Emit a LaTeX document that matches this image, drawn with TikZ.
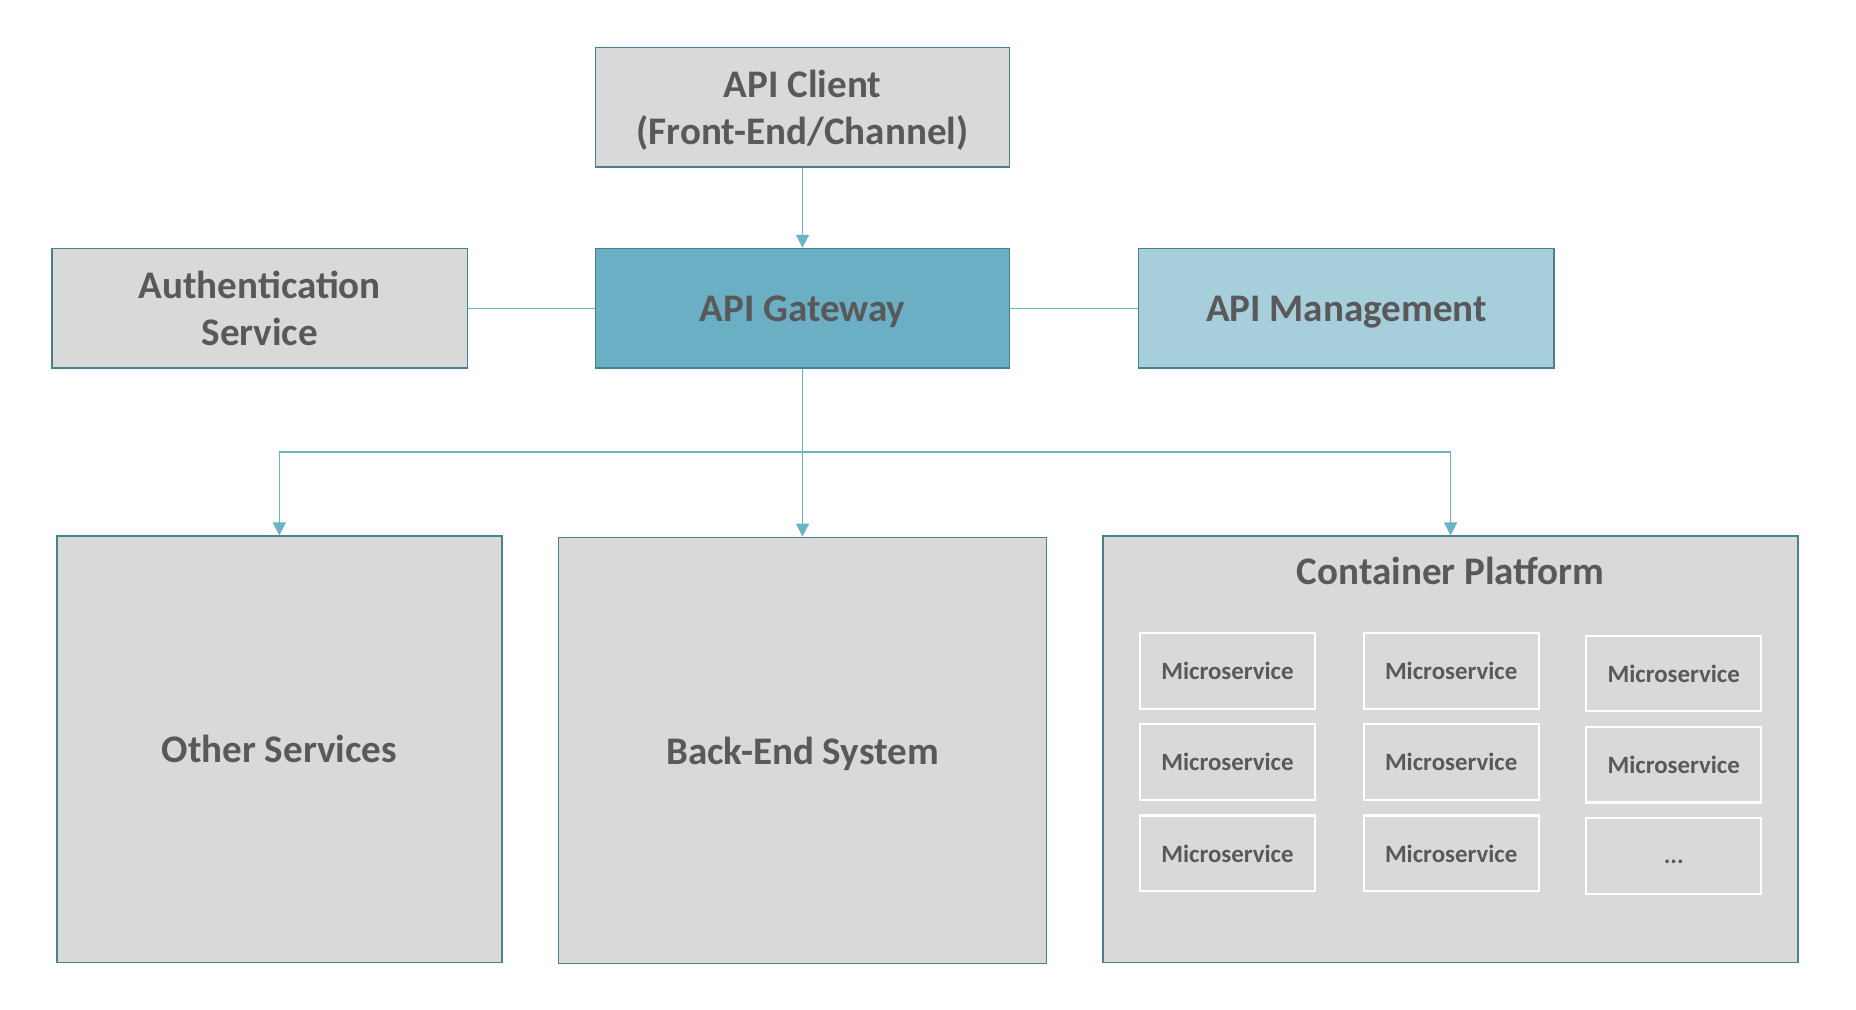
\documentclass[tikz,border=0pt]{standalone}
\usepackage{fontspec}
\setmainfont{Carlito}
\usetikzlibrary{arrows.meta}
\definecolor{boxgray}{HTML}{D9D9D9}
\definecolor{boxborder}{HTML}{4A7F8C}
\definecolor{gwfill}{HTML}{6AAFC3}
\definecolor{mgmtfill}{HTML}{A6CFDB}
\definecolor{linecol}{HTML}{6AB4C8}
\definecolor{txt}{HTML}{595959}
\begin{document}
\begin{tikzpicture}[x=1pt,y=1pt,
  bigbox/.style={draw=boxborder, line width=1.3pt, fill=boxgray, inner sep=0pt,
    text=txt, font=\fontsize{33}{40}\selectfont\bfseries, align=center, text depth=0pt},
  msbox/.style={draw=white, line width=1.8pt, fill=boxgray, inner sep=0pt,
    minimum width=148pt, minimum height=64pt, text=txt,
    font=\fontsize{21}{25}\selectfont\bfseries},
  conn/.style={draw=linecol, line width=1.2pt},
  arr/.style={conn, -{Triangle[width=11pt,length=11pt]}}]
\useasboundingbox (0,0) rectangle (1568,-853);
\fill[white] (0,0) rectangle (1568,-853);

\node[bigbox, minimum width=350pt, minimum height=101pt] (client) at (678,-90.5) {API Client\\(Front-End/Channel)};
\node[bigbox, minimum width=351pt, minimum height=101pt] (auth) at (219.5,-260.5) {Authentication\\Service};
\node[bigbox, fill=gwfill, minimum width=350pt, minimum height=101pt] (gw) at (678,-260.5) {API Gateway};
\node[bigbox, fill=mgmtfill, minimum width=351pt, minimum height=101pt] (mgmt) at (1137.5,-260.5) {API Management};

\node[bigbox, minimum width=376pt, minimum height=360pt] (other) at (236,-633) {Other Services};
\node[bigbox, minimum width=412pt, minimum height=360pt] (backend) at (678,-634) {Back-End System};
\node[bigbox, minimum width=587pt, minimum height=360pt] (container) at (1225.5,-633) {};
\node[text=txt, font=\fontsize{33}{40}\selectfont\bfseries, inner sep=0pt, text depth=0pt] (ctitle) at (1225.5,-482) {Container Platform};

\node[msbox] (m11) at (1037,-567) {Microservice};
\node[msbox] (m12) at (1226,-567) {Microservice};
\node[msbox] (m13) at (1414,-569) {Microservice};
\node[msbox] (m21) at (1037,-644) {Microservice};
\node[msbox] (m22) at (1226,-644) {Microservice};
\node[msbox] (m23) at (1414,-646) {Microservice};
\node[msbox] (m31) at (1037,-721) {Microservice};
\node[msbox] (m32) at (1226,-721) {Microservice};
\node[msbox, text height=13pt, text depth=0pt] (m33) at (1414,-723) {...};

\coordinate (bus) at (678,-382);

\draw[arr] (client) -- (gw);
\draw[conn] (auth) -- (gw);
\draw[conn] (gw) -- (mgmt);
\draw[conn] (gw) -- (bus);
\draw[arr] (bus) -| (other);
\draw[arr] (bus) -- (backend);
\draw[arr] (bus) -| (container);
\end{tikzpicture}
\end{document}
